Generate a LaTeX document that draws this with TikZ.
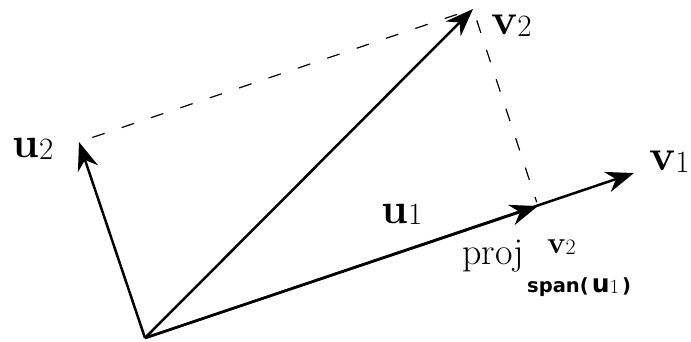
\documentclass[tikz,border=0pt]{standalone}
\usepackage{fontspec}
\newfontfamily\dvsans{DejaVu Sans}
\usetikzlibrary{arrows.meta}
\newcommand\veclab[4]{{\fontsize{#1}{#1}\selectfont\bfseries #3}\raisebox{-0.16em}{\fontsize{#2}{#2}\selectfont #4}}
\begin{document}
\begin{tikzpicture}[x=1pt,y=-1pt,
  vec/.style={line width=2.5pt,-{Stealth[length=28pt,width=21pt,inset=9pt]}},
  guide/.style={line width=1.2pt,dash pattern=on 13pt off 18pt},
  lab/.style={inner sep=0pt,anchor=base west}]
\useasboundingbox (0,0) rectangle (691,342);
\coordinate (O) at (145,338);
\coordinate (V1) at (634,173);
\coordinate (V2) at (473,9);
\coordinate (P) at (538,206);
\coordinate (U2) at (79,142);
\draw[guide,shorten <=14pt,shorten >=4pt] (U2) -- (V2);
\draw[guide,shorten <=12pt,shorten >=4pt] (V2) -- (P);
\draw[vec] (O) -- (V1);
\draw[vec] (O) -- (P);
\draw[vec] (O) -- (V2);
\draw[vec] (O) -- (U2);
\node[lab] (lu2) at (12,158) {\veclab{43}{31}{u}{2}};
\node[lab] (lv2) at (491,35) {\veclab{44}{31}{v}{2}};
\node[lab] (lv1) at (649,171) {\veclab{44}{31}{v}{1}};
\node[lab] (lu1) at (381,223) {\veclab{43}{31}{u}{1}};
\node[lab] (lproj) at (462,264) {\fontsize{38}{40}\selectfont proj};
\node[lab] (lsup) at (547,253) {\veclab{31}{22}{v}{2}};
\node[lab] (lspan) at (527,292) {\fontsize{19.5}{20}\selectfont\dvsans\bfseries span(\,{\fontsize{25}{25}\selectfont u}\raisebox{-0.1em}{\normalfont\fontsize{20}{20}\selectfont 1}\,)};
\end{tikzpicture}
\end{document}
